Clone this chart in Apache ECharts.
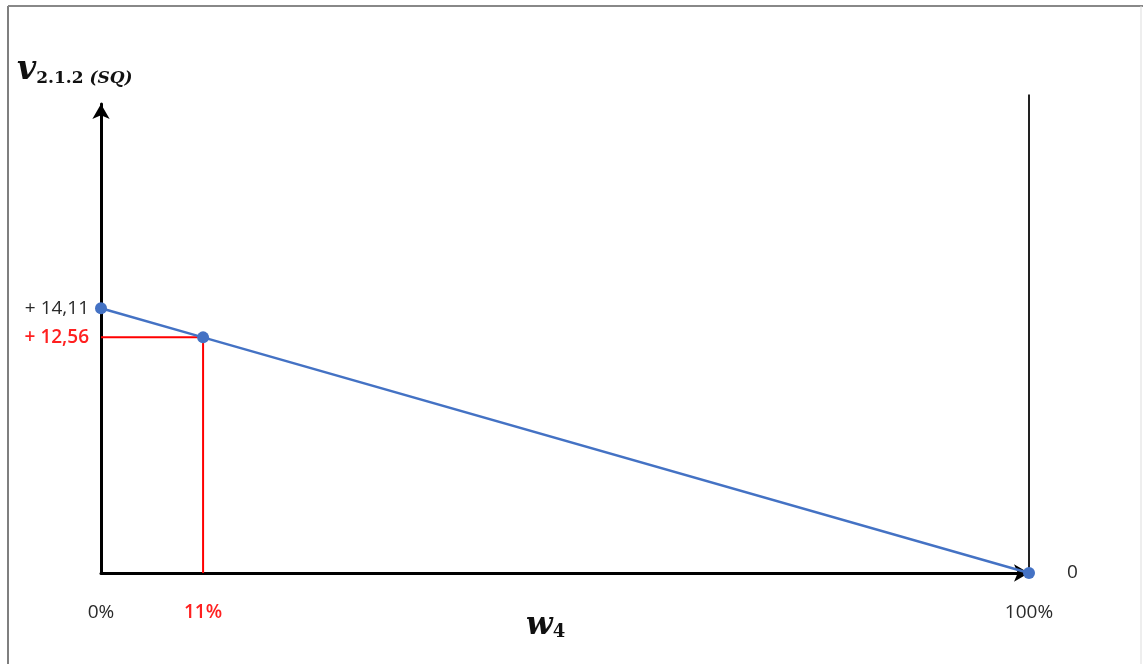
<!DOCTYPE html>
<html>
<head>
<meta charset="utf-8">
<script src="https://cdn.jsdelivr.net/npm/echarts@6/dist/echarts.min.js"></script>
<style>
html,body{margin:0;padding:0;background:#fff;}
#chart{width:1143px;height:664px;}
</style>
</head>
<body>
<div id="chart"></div>
<script>
// ---- data ----
const wValues = [0, 11, 100];            // w4 (%)
const vValues = [14.11, 12.56, 0];       // v2.1.2 (SQ)
const xTickValues = [0, 11, 100];
const xTickLabels = ['0%', '11%', '100%'];
const yTickValues = [14.11, 12.56];
const yTickLabels = ['+ 14,11', '+ 12,56'];
const highlightW = 11;
const highlightV = 12.56;
const endLabel = '0';
const boundaryW = 100;
const boundaryTop = 25.5;

const chart = echarts.init(document.getElementById('chart'));
const labelFont = '"Open Sans", "Liberation Sans", sans-serif';

const xLabelMap = {};
xTickValues.forEach((v, i) => xLabelMap[v] = xTickLabels[i]);
const yLabelMap = {};
yTickValues.forEach((v, i) => yLabelMap[v] = yTickLabels[i]);

chart.setOption({
  animation: false,
  backgroundColor: '#ffffff',
  grid: { left: 101, right: 114, top: 104, bottom: 91 },
  xAxis: {
    type: 'value', min: 0, max: 100,
    axisLine: { show: true, symbol: ['none', 'arrow'], symbolSize: [13, 15],
      lineStyle: { color: '#000', width: 3 } },
    axisTick: { show: false },
    splitLine: { show: false },
    axisLabel: {
      customValues: xTickValues,
      margin: 30,
      fontFamily: labelFont, fontSize: 19, color: '#2a2a2a',
      formatter: v => v === highlightW ? '{r|' + xLabelMap[v] + '}' : xLabelMap[v],
      rich: { r: { color: '#ff2020', fontFamily: labelFont, fontSize: 19, fontWeight: 600 } }
    }
  },
  yAxis: {
    type: 'value', min: 0, max: 25,
    axisLine: { show: true, symbol: ['none', 'arrow'], symbolSize: [13, 15],
      lineStyle: { color: '#000', width: 3 } },
    axisTick: { show: false },
    splitLine: { show: false },
    axisLabel: {
      customValues: yTickValues,
      margin: 12,
      hideOverlap: false,
      fontFamily: labelFont, fontSize: 19, color: '#2a2a2a',
      formatter: v => v === highlightV ? '{r|' + yLabelMap[v] + '}' : yLabelMap[v],
      rich: { r: { color: '#ff2020', fontFamily: labelFont, fontSize: 19, fontWeight: 600 } }
    }
  },
  graphic: [
    { type: 'line', shape: { x1: 8, y1: 6, x2: 8, y2: 664 }, style: { stroke: '#555', lineWidth: 1.5 } },
    { type: 'line', shape: { x1: 8, y1: 6, x2: 1143, y2: 6 }, style: { stroke: '#888', lineWidth: 2 } },
    { type: 'line', shape: { x1: 1141, y1: 6, x2: 1141, y2: 664 }, style: { stroke: '#ddd', lineWidth: 1 } },
    {
      type: 'text', left: 17, top: 54,
      style: {
        text: '{v|v}{s|2.1.2 }{i|(SQ)}',
        rich: {
          v: { fontFamily: '"DejaVu Serif", serif', fontStyle: 'italic', fontWeight: 'bold', fontSize: 33, fill: '#111', lineHeight: 40, verticalAlign: 'bottom' },
          s: { fontFamily: '"DejaVu Serif", serif', fontWeight: 'bold', fontSize: 17, fill: '#111', lineHeight: 20, verticalAlign: 'bottom' },
          i: { fontFamily: '"DejaVu Serif", serif', fontStyle: 'italic', fontWeight: 'bold', fontSize: 17, fill: '#111', lineHeight: 20, verticalAlign: 'bottom' }
        }
      }
    },
    {
      type: 'text', left: 526, top: 610,
      style: {
        text: '{w|w}{s|4}',
        rich: {
          w: { fontFamily: '"DejaVu Serif", serif', fontStyle: 'italic', fontWeight: 'bold', fontSize: 31, fill: '#111', lineHeight: 36, verticalAlign: 'bottom' },
          s: { fontFamily: '"DejaVu Serif", serif', fontWeight: 'bold', fontSize: 18, fill: '#111', lineHeight: 19, verticalAlign: 'bottom' }
        }
      }
    }
  ],
  series: [
    {
      type: 'line', name: 'boundary',
      data: [[boundaryW, 0], [boundaryW, boundaryTop]],
      showSymbol: false, symbol: 'none', clip: false, z: 1,
      lineStyle: { color: '#222', width: 2 }, silent: true
    },
    {
      type: 'line', name: 'guide',
      data: [[0, highlightV], [highlightW, highlightV], [highlightW, 0]],
      showSymbol: false, symbol: 'none', z: 3,
      lineStyle: { color: '#ff0000', width: 2 }, silent: true
    },
    {
      type: 'line', name: 'v',
      data: wValues.map((w, i) => [w, vValues[i]]),
      symbol: 'circle', symbolSize: 12, clip: false, z: 5,
      lineStyle: { color: '#4472C4', width: 2.5 },
      itemStyle: { color: '#4472C4' },
      label: {
        show: true, position: 'right', distance: 32,
        fontFamily: labelFont, fontSize: 19, color: '#2a2a2a',
        formatter: p => p.dataIndex === wValues.length - 1 ? endLabel : ''
      }
    }
  ]
});
</script>
</body>
</html>
